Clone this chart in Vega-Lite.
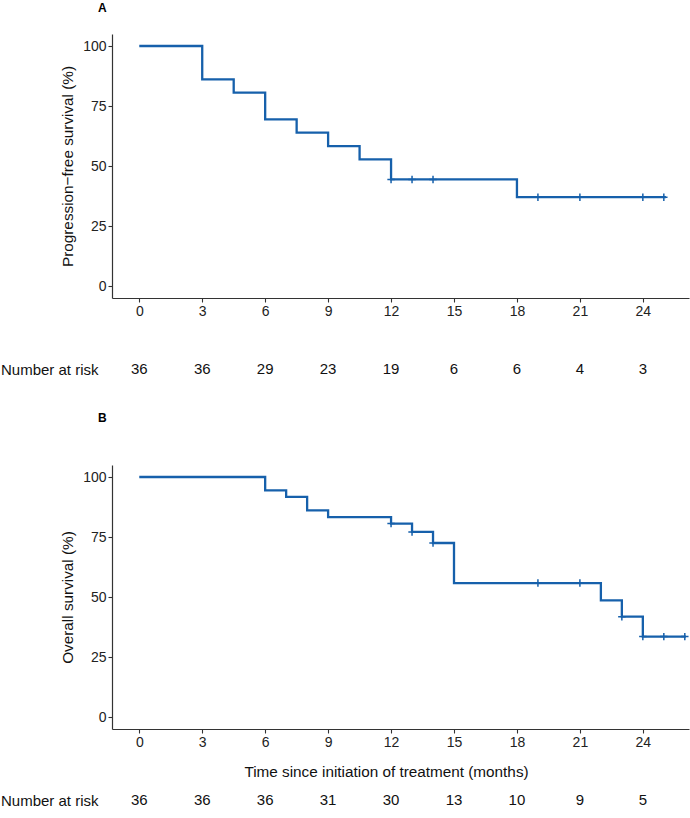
{
  "$schema": "https://vega.github.io/schema/vega-lite/v6.json",
  "padding": {"top": 2, "left": 0, "right": 0, "bottom": 0},
  "spacing": 33,
  "config": {
    "view": {"stroke": null},
    "font": "Liberation Sans",
    "axis": {
      "grid": false,
      "domainColor": "#333333",
      "domainWidth": 1.2,
      "tickColor": "#333333",
      "tickWidth": 1.1,
      "tickSize": 4,
      "labelColor": "#222222",
      "labelFontSize": 14,
      "labelPadding": 2,
      "titleColor": "#111111",
      "titleFontSize": 15.3,
      "titleFontWeight": "normal"
    },
    "title": {"fontSize": 12, "fontWeight": "bold", "anchor": "start", "frame": "group", "color": "#000000"}
  },
  "datasets": {
    "pfs_line": [
      {"time": 0, "surv": 100}, {"time": 3, "surv": 86.1}, {"time": 4.5, "surv": 80.6},
      {"time": 6, "surv": 69.4}, {"time": 7.5, "surv": 63.9}, {"time": 9, "surv": 58.3},
      {"time": 10.5, "surv": 52.8}, {"time": 12, "surv": 44.4}, {"time": 18, "surv": 37.0},
      {"time": 25.1, "surv": 37.0}
    ],
    "pfs_cens": [
      {"time": 12, "surv": 44.4}, {"time": 13, "surv": 44.4}, {"time": 14, "surv": 44.4},
      {"time": 19, "surv": 37.0}, {"time": 21, "surv": 37.0}, {"time": 24, "surv": 37.0},
      {"time": 25, "surv": 37.0}
    ],
    "os_line": [
      {"time": 0, "surv": 100}, {"time": 6, "surv": 94.4}, {"time": 7, "surv": 91.7},
      {"time": 8, "surv": 86.1}, {"time": 9, "surv": 83.3}, {"time": 12, "surv": 80.6},
      {"time": 13, "surv": 77.1}, {"time": 14, "surv": 72.5}, {"time": 15, "surv": 55.8},
      {"time": 22, "surv": 48.6}, {"time": 23, "surv": 41.8}, {"time": 24, "surv": 33.5},
      {"time": 26.05, "surv": 33.5}
    ],
    "os_cens": [
      {"time": 12, "surv": 80.6}, {"time": 13, "surv": 77.1}, {"time": 14, "surv": 72.5},
      {"time": 19, "surv": 55.8}, {"time": 21, "surv": 55.8}, {"time": 23, "surv": 41.8},
      {"time": 24, "surv": 33.5}, {"time": 25, "surv": 33.5}, {"time": 26, "surv": 33.5}
    ],
    "risk_pfs": [
      {"time": 0, "n": 36, "row": "Number at risk"}, {"time": 3, "n": 36, "row": "Number at risk"},
      {"time": 6, "n": 29, "row": "Number at risk"}, {"time": 9, "n": 23, "row": "Number at risk"},
      {"time": 12, "n": 19, "row": "Number at risk"}, {"time": 15, "n": 6, "row": "Number at risk"},
      {"time": 18, "n": 6, "row": "Number at risk"}, {"time": 21, "n": 4, "row": "Number at risk"},
      {"time": 24, "n": 3, "row": "Number at risk"}
    ],
    "risk_os": [
      {"time": 0, "n": 36, "row": "Number at risk"}, {"time": 3, "n": 36, "row": "Number at risk"},
      {"time": 6, "n": 36, "row": "Number at risk"}, {"time": 9, "n": 31, "row": "Number at risk"},
      {"time": 12, "n": 30, "row": "Number at risk"}, {"time": 15, "n": 13, "row": "Number at risk"},
      {"time": 18, "n": 10, "row": "Number at risk"}, {"time": 21, "n": 9, "row": "Number at risk"},
      {"time": 24, "n": 5, "row": "Number at risk"}
    ]
  },
  "vconcat": [
    {
      "spacing": 10,
      "vconcat": [
        {
          "width": 577,
          "height": 264,
          "title": {"text": "A", "dx": -14, "offset": 19},
          "layer": [
            {
              "data": {"name": "pfs_line"},
              "mark": {"type": "line", "interpolate": "step-after", "color": "#1660AB", "strokeWidth": 2.3},
              "encoding": {
                "x": {"field": "time", "type": "quantitative",
                  "scale": {"domain": [-1.3, 26.2], "nice": false, "zero": false},
                  "axis": {"title": " ", "titlePadding": 15, "values": [0, 3, 6, 9, 12, 15, 18, 21, 24]}},
                "y": {"field": "surv", "type": "quantitative",
                  "scale": {"domain": [-5, 105], "nice": false},
                  "axis": {"title": "Progression\u2212free survival (%)", "values": [0, 25, 50, 75, 100], "titlePadding": 7}}
              }
            },
            {
              "data": {"name": "pfs_cens"},
              "mark": {"type": "point", "shape": "M-1,0L1,0M0,-1L0,1", "filled": false, "color": "#1660AB", "strokeWidth": 1.5, "size": 55, "opacity": 1},
              "encoding": {
                "x": {"field": "time", "type": "quantitative"},
                "y": {"field": "surv", "type": "quantitative"}
              }
            }
          ]
        },
        {
          "width": 577,
          "height": 20,
          "data": {"name": "risk_pfs"},
          "mark": {"type": "text", "fontSize": 15, "color": "#111111", "baseline": "middle"},
          "encoding": {
            "x": {"field": "time", "type": "quantitative",
              "scale": {"domain": [-1.3, 26.2], "nice": false, "zero": false}, "axis": null},
            "y": {"field": "row", "type": "nominal",
              "axis": {"title": null, "domain": false, "ticks": false, "tickSize": 0, "labelPadding": 14, "labelFontSize": 15, "labelColor": "#111111"}},
            "text": {"field": "n", "type": "quantitative"}
          }
        }
      ]
    },
    {
      "spacing": 10,
      "vconcat": [
        {
          "width": 577,
          "height": 264,
          "title": {"text": "B", "dx": -14, "offset": 40},
          "layer": [
            {
              "data": {"name": "os_line"},
              "mark": {"type": "line", "interpolate": "step-after", "color": "#1660AB", "strokeWidth": 2.3},
              "encoding": {
                "x": {"field": "time", "type": "quantitative",
                  "scale": {"domain": [-1.3, 26.2], "nice": false, "zero": false},
                  "axis": {"title": "Time since initiation of treatment (months)", "titlePadding": 15, "titleX": 274, "values": [0, 3, 6, 9, 12, 15, 18, 21, 24]}},
                "y": {"field": "surv", "type": "quantitative",
                  "scale": {"domain": [-5, 105], "nice": false},
                  "axis": {"title": "Overall survival (%)", "values": [0, 25, 50, 75, 100], "titlePadding": 7}}
              }
            },
            {
              "data": {"name": "os_cens"},
              "mark": {"type": "point", "shape": "M-1,0L1,0M0,-1L0,1", "filled": false, "color": "#1660AB", "strokeWidth": 1.5, "size": 55, "opacity": 1},
              "encoding": {
                "x": {"field": "time", "type": "quantitative"},
                "y": {"field": "surv", "type": "quantitative"}
              }
            }
          ]
        },
        {
          "width": 577,
          "height": 20,
          "data": {"name": "risk_os"},
          "mark": {"type": "text", "fontSize": 15, "color": "#111111", "baseline": "middle"},
          "encoding": {
            "x": {"field": "time", "type": "quantitative",
              "scale": {"domain": [-1.3, 26.2], "nice": false, "zero": false}, "axis": null},
            "y": {"field": "row", "type": "nominal",
              "axis": {"title": null, "domain": false, "ticks": false, "tickSize": 0, "labelPadding": 14, "labelFontSize": 15, "labelColor": "#111111"}},
            "text": {"field": "n", "type": "quantitative"}
          }
        }
      ]
    }
  ]
}
